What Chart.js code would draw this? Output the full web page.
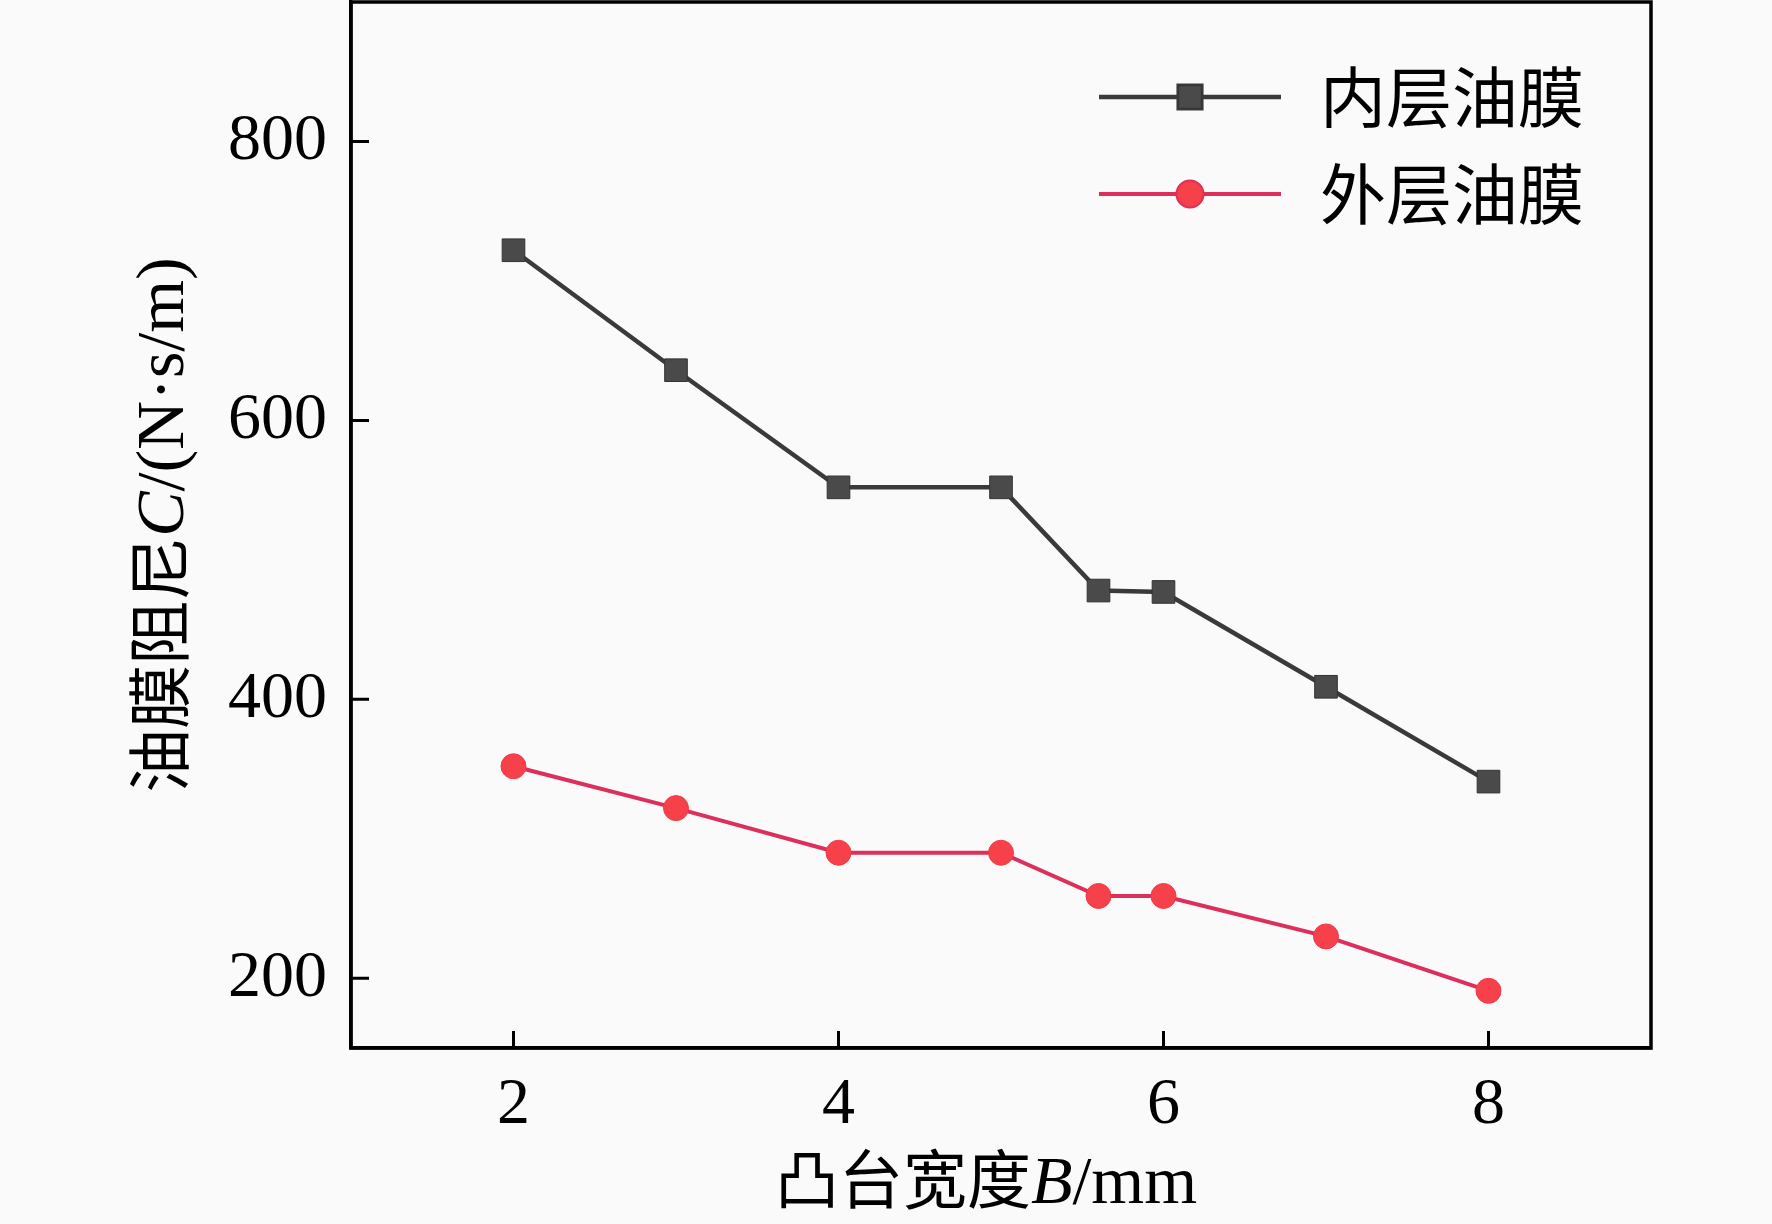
<!DOCTYPE html>
<html>
<head>
<meta charset="utf-8">
<script src="https://cdn.jsdelivr.net/npm/chart.js@4.4.1/dist/chart.umd.min.js"></script>
<style>
  html, body { margin: 0; padding: 0; background: #fafafa; }
  canvas { display: block; }
</style>
</head>
<body>
<canvas id="chart" width="1772" height="1224"></canvas>
<script>
// boss width B (mm) vs oil film damping C (N·s/m)
const widths = [2, 3, 4, 5, 5.6, 6, 7, 8];
const innerFilm = [722, 636, 552, 552, 478, 477, 409, 341];
const outerFilm = [352, 322, 290, 290, 259, 259, 230, 191];
const seriesNames = ['内层油膜', '外层油膜'];
const xTicks = [2, 4, 6, 8];
const yTicks = [200, 400, 600, 800];

const serif = '"Liberation Serif", "Times New Roman", serif';
const cjk = '"Noto Sans CJK SC", sans-serif';

Chart.defaults.font.family = serif;
Chart.defaults.color = '#000';

function toPoints(ys) {
    return widths.map((x, i) => ({ x: x, y: ys[i] }));
}

// draws inward ticks, the closed frame, axis titles and the legend
const decorations = {
    id: 'decorations',
    afterDraw(chart) {
        const ctx = chart.ctx;
        const area = chart.chartArea;
        const xs = chart.scales.x;
        const ys = chart.scales.y;
        ctx.save();
        ctx.strokeStyle = '#000';
        ctx.lineWidth = 3.5;
        ctx.strokeRect(area.left, area.top, area.right - area.left, area.bottom - area.top);

        ctx.lineWidth = 3;
        ctx.beginPath();
        yTicks.forEach(v => {
            const py = ys.getPixelForValue(v);
            ctx.moveTo(area.left, py);
            ctx.lineTo(area.left + 18, py);
        });
        xTicks.forEach(v => {
            const px = xs.getPixelForValue(v);
            ctx.moveTo(px, area.bottom);
            ctx.lineTo(px, area.bottom - 17);
        });
        ctx.stroke();

        // axis titles with italic symbols
        function drawParts(parts, cx, cy) {
            let total = 0;
            parts.forEach(p => { ctx.font = p.font; p.w = ctx.measureText(p.t).width; total += p.w; });
            let x = cx - total / 2;
            ctx.textBaseline = 'alphabetic';
            ctx.textAlign = 'left';
            ctx.fillStyle = '#000';
            parts.forEach(p => { ctx.font = p.font; ctx.fillText(p.t, x, cy); x += p.w; });
        }
        drawParts([
            { t: '凸台宽度', font: '64px ' + cjk },
            { t: 'B', font: 'italic 68px ' + serif },
            { t: '/mm', font: '68px ' + serif }
        ], 986, 1203);

        ctx.save();
        ctx.translate(183, (area.top + area.bottom) / 2);
        ctx.rotate(-Math.PI / 2);
        drawParts([
            { t: '油膜阻尼', font: '64px ' + cjk },
            { t: 'C', font: 'italic 68px ' + serif },
            { t: '/(N·s/m)', font: '68px ' + serif }
        ], 0, 0);
        ctx.restore();

        // legend
        const rows = [97, 194];
        chart.data.datasets.forEach((ds, i) => {
            const y = rows[i];
            ctx.strokeStyle = ds.borderColor;
            ctx.lineWidth = ds.borderWidth;
            ctx.beginPath();
            ctx.moveTo(1099, y);
            ctx.lineTo(1281, y);
            ctx.stroke();
            Chart.helpers.drawPoint(ctx, {
                pointStyle: ds.pointStyle,
                radius: ds.pointRadius,
                borderWidth: ds.pointBorderWidth,
                rotation: 0
            }, 1190, y);
            ctx.fillStyle = ds.pointBackgroundColor;
            ctx.strokeStyle = ds.pointBorderColor;
            ctx.lineWidth = ds.pointBorderWidth;
            ctx.fill();
            ctx.stroke();
            ctx.fillStyle = '#000';
            ctx.font = '66px ' + cjk;
            ctx.textBaseline = 'middle';
            ctx.textAlign = 'left';
            ctx.fillText(ds.label, 1320, y);
        });
        ctx.restore();
    }
};

new Chart(document.getElementById('chart'), {
    type: 'line',
    data: {
        datasets: [
            {
                label: seriesNames[0],
                data: toPoints(innerFilm),
                borderColor: '#3a3a3a',
                borderWidth: 4.5,
                pointStyle: 'rect',
                pointRadius: 16,
                pointBorderWidth: 1,
                pointBackgroundColor: '#4a4a4a',
                pointBorderColor: '#333333',
                tension: 0
            },
            {
                label: seriesNames[1],
                data: toPoints(outerFilm),
                borderColor: '#dc2f5c',
                borderWidth: 4,
                pointStyle: 'circle',
                pointRadius: 12.5,
                pointBorderWidth: 1,
                pointBackgroundColor: '#f6404a',
                pointBorderColor: '#f03a48',
                tension: 0
            }
        ]
    },
    options: {
        responsive: false,
        animation: false,
        devicePixelRatio: 1,
        layout: { autoPadding: false, padding: { top: 2, right: 121, left: 0, bottom: 0 } },
        plugins: { legend: { display: false }, tooltip: { enabled: false } },
        scales: {
            x: {
                type: 'linear',
                min: 1,
                max: 9,
                afterBuildTicks: s => { s.ticks = xTicks.map(v => ({ value: v })); },
                afterFit: s => { s.height = 176; s.paddingLeft = 0; s.paddingRight = 0; },
                grid: { display: false, drawTicks: false },
                border: { display: true, color: '#000', width: 3.5 },
                ticks: { font: { size: 66 }, color: '#000', padding: 18, maxRotation: 0 }
            },
            y: {
                type: 'linear',
                min: 150,
                max: 900,
                afterBuildTicks: s => { s.ticks = yTicks.map(v => ({ value: v })); },
                afterFit: s => { s.width = 351; s.paddingTop = 0; s.paddingBottom = 0; },
                grid: { display: false, drawTicks: false },
                border: { display: true, color: '#000', width: 3.5 },
                ticks: { font: { size: 66 }, color: '#000', padding: 24 }
            }
        }
    },
    plugins: [decorations]
});
</script>
</body>
</html>
